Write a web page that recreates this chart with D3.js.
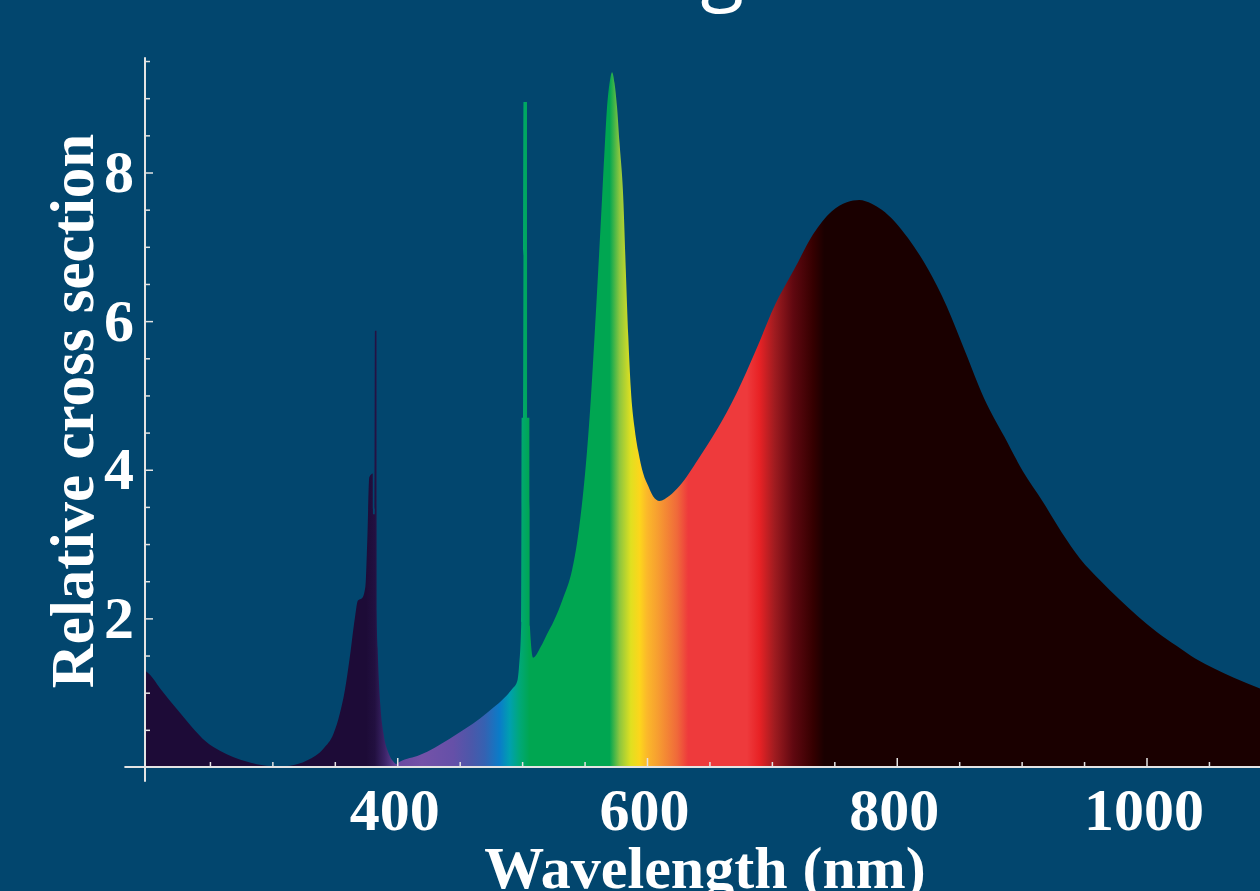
<!DOCTYPE html>
<html>
<head>
<meta charset="utf-8">
<script src="https://cdn.jsdelivr.net/npm/d3@7"></script>
<style>
  body { margin: 0; background: #02466e; }
  svg { display: block; }
  .lbl { fill: #fff; font-family: "Liberation Serif", "Times New Roman", serif; font-weight: bold; }
</style>
</head>
<body>
<svg id="chart" width="1260" height="891"></svg>
<script>
// spectrum (nm, relative cross section)
const wavelengths = [
  198, 202, 210, 224, 235, 247, 258, 269, 280, 290, 300, 310, 318, 328, 341, 349, 354, 358, 362, 366,
  368.5, 371.7, 374.4, 376, 377.6, 380.4, 380.6, 382, 382.1, 383.4, 383.5, 384.3, 386.4, 389, 393, 397, 399,
  402, 418, 430, 442, 455, 466, 477, 485, 492, 496, 497.5, 499.3, 499.6, 501.0, 501.1, 503.9, 504.0, 505.8,
  506.2, 508.8, 515, 520, 525, 533, 540, 544, 548, 552, 555, 558, 561, 564, 566, 568, 570, 572, 574, 576,
  578, 581, 583, 585, 587, 590, 593, 597, 601, 605, 610, 618, 626, 641, 656, 672, 687, 702, 718, 733, 748,
  760, 770, 780, 788, 809, 825, 840, 855, 870, 886, 901, 917, 932, 947, 963, 978, 993, 1008, 1024, 1039,
  1055, 1070, 1092
];
const crossSection = [
  1.30, 1.24, 1.06, 0.77, 0.55, 0.34, 0.22, 0.13, 0.07, 0.03, 0.01, 0.01, 0.03, 0.09, 0.25, 0.45, 0.72, 1.03, 1.48, 2.00,
  2.24, 2.27, 2.42, 3.05, 3.90, 3.95, 3.40, 3.40, 5.87, 5.87, 2.10, 1.60, 0.85, 0.45, 0.19, 0.07, 0.04,
  0.07, 0.16, 0.26, 0.38, 0.52, 0.65, 0.80, 0.92, 1.05, 1.15, 1.35, 1.95, 4.70, 4.70, 8.95, 8.95, 4.70, 4.70,
  1.90, 1.47, 1.62, 1.79, 1.95, 2.28, 2.65, 3.02, 3.55, 4.26, 4.95, 5.80, 6.70, 7.65, 8.30, 8.88, 9.20, 9.35, 9.20, 8.88,
  8.40, 7.65, 6.70, 5.80, 5.10, 4.57, 4.25, 3.95, 3.78, 3.64, 3.58, 3.65, 3.78, 4.14, 4.54, 5.04, 5.60, 6.20, 6.70, 7.17, 7.48,
  7.60, 7.63, 7.58, 7.50, 7.12, 6.70, 6.20, 5.58, 4.96, 4.45, 3.98, 3.57, 3.16, 2.80, 2.51, 2.26, 2.03, 1.82, 1.63, 1.46,
  1.32, 1.20, 1.05
];

// colour of the fill at each wavelength
const stopNm = [198, 375, 382, 390, 400, 420, 445, 460, 470, 482, 490, 498, 506, 570, 578, 587, 594, 600, 608, 624, 633, 680, 690, 702, 717, 733, 742, 1092];
const stopColor = ["#1d0b37", "#1d0b37", "#221040", "#3c2468", "#6a4aa0", "#7452a8", "#6550a8", "#4a58aa", "#3562b2", "#0a7cc8",
  "#00a0b0", "#00a878", "#00a651", "#00a651", "#8cc63f", "#e0e020", "#fcd61c", "#fbb82a", "#f7a030", "#f06a3a", "#ee3a3c",
  "#ee3a3c", "#e82225", "#a01c20", "#600810", "#350000", "#1a0000", "#1a0000"];

const xMajor = [400, 600, 800, 1000];
const xMinor = [250, 300, 350, 450, 500, 550, 650, 700, 750, 850, 900, 950, 1050];
const yMajor = [2, 4, 6, 8];
const yMinor = [0.5, 1, 1.5, 2.5, 3, 3.5, 4.5, 5, 5.5, 6.5, 7, 7.5, 8.5, 9, 9.5];

const svg = d3.select("#chart");
const x = d3.scaleLinear().domain([200, 1000]).range([147.5, 1146.5]);
const y = d3.scaleLinear().domain([0, 8]).range([767, 172.5]);

const data = wavelengths.map((w, i) => ({ w: w, v: crossSection[i] }));

// title, mostly above the visible area
svg.append("text")
  .attr("x", 744)
  .attr("y", -5)
  .attr("text-anchor", "end")
  .attr("fill", "#fff")
  .style("font-family", "'Open Sans', sans-serif")
  .style("font-size", "80px")
  .text("Scattering");

const grad = svg.append("defs").append("linearGradient")
  .attr("id", "spectrum")
  .attr("gradientUnits", "userSpaceOnUse")
  .attr("x1", x(stopNm[0])).attr("x2", x(stopNm[stopNm.length - 1]))
  .attr("y1", 0).attr("y2", 0);
grad.selectAll("stop")
  .data(stopNm)
  .enter()
  .append("stop")
  .attr("offset", (d) => (d - stopNm[0]) / (stopNm[stopNm.length - 1] - stopNm[0]))
  .attr("stop-color", (d, i) => stopColor[i]);

const area = d3.area()
  .curve(d3.curveMonotoneX)
  .x((d) => x(d.w))
  .y0(y(0))
  .y1((d) => y(d.v));

svg.append("path")
  .datum(data)
  .attr("d", area)
  .attr("fill", "url(#spectrum)");

// axes
const axisColor = "#e4e4e4";
const xAxisG = svg.append("g").attr("transform", `translate(0,${y(0)})`);
xAxisG.call(d3.axisBottom(x).tickValues(xMinor).tickSizeInner(-5).tickSizeOuter(0).tickFormat(""));
xAxisG.append("g").call(
  d3.axisBottom(x).tickValues(xMajor).tickSizeInner(-9).tickSizeOuter(0).tickPadding(20).tickFormat(d3.format("d"))
);
const yAxisG = svg.append("g").attr("transform", `translate(${x(198)},0)`);
yAxisG.call(d3.axisLeft(y).tickValues(yMinor).tickSizeInner(-5).tickSizeOuter(0).tickFormat(""));
yAxisG.append("g").call(
  d3.axisLeft(y).tickValues(yMajor).tickSizeInner(-8).tickSizeOuter(0).tickPadding(11).tickFormat(d3.format("d"))
);
svg.selectAll(".domain").remove();
svg.selectAll(".tick line").attr("stroke", axisColor).attr("stroke-width", 1.5);
svg.selectAll(".tick text")
  .attr("class", "lbl")
  .attr("fill", "#fff")
  .style("font-size", "60px");
xAxisG.selectAll(".tick text").attr("dx", -3);

svg.append("line")
  .attr("x1", x(181.5)).attr("x2", 1260)
  .attr("y1", y(0)).attr("y2", y(0))
  .attr("stroke", axisColor).attr("stroke-width", 2);
svg.append("line")
  .attr("x1", x(198)).attr("x2", x(198))
  .attr("y1", y(9.55)).attr("y2", y(-0.2))
  .attr("stroke", axisColor).attr("stroke-width", 2);

svg.append("text")
  .attr("class", "lbl")
  .attr("x", 705)
  .attr("y", 888)
  .attr("text-anchor", "middle")
  .style("font-size", "60px")
  .text("Wavelength (nm)");

svg.append("text")
  .attr("class", "lbl")
  .attr("transform", "translate(93,411) rotate(-90)")
  .attr("text-anchor", "middle")
  .style("font-size", "61px")
  .text("Relative cross section");
</script>
</body>
</html>
